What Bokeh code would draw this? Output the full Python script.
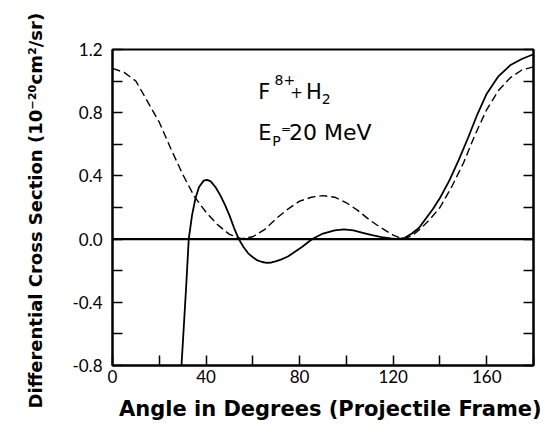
from bokeh.plotting import figure
from bokeh.models import LinearAxis, FixedTicker, Span, Label, Range1d
from bokeh.embed import file_html
from bokeh.resources import INLINE

# ---- data ----
dashed_angle = [0, 5, 10, 15, 20, 25, 30, 35, 40, 45, 50, 55, 60, 65, 70, 75, 80, 85, 90,
                95, 100, 105, 110, 115, 120, 124, 128, 132, 136, 140, 145, 150, 155, 160,
                165, 170, 175, 180]
dashed_xs = [1.08, 1.055, 1.0, 0.87, 0.74, 0.57, 0.41, 0.27, 0.17, 0.09, 0.03, 0.003, 0.015,
             0.06, 0.13, 0.19, 0.24, 0.265, 0.275, 0.265, 0.23, 0.18, 0.12, 0.07, 0.025, 0.0,
             0.02, 0.07, 0.13, 0.2, 0.33, 0.48, 0.66, 0.82, 0.94, 1.02, 1.07, 1.09]

solid_angle = [29.5, 30.5, 31.5, 32.6, 34, 35.5, 37, 39, 40.5, 42, 44, 46, 48, 50, 52, 54, 56,
               58, 60, 62, 64, 66, 68, 70, 72, 75, 78, 81, 84, 86, 90, 95, 99, 103, 107, 111,
               115, 119, 122, 125, 128, 131, 134, 137, 140, 144, 148, 152, 156, 160, 165, 170,
               175, 180]
solid_xs = [-0.8, -0.55, -0.3, 0.0, 0.15, 0.26, 0.33, 0.37, 0.375, 0.365, 0.33, 0.28, 0.22,
            0.15, 0.07, 0.0, -0.05, -0.09, -0.115, -0.135, -0.145, -0.15, -0.148, -0.14,
            -0.13, -0.11, -0.08, -0.05, -0.015, 0.005, 0.035, 0.055, 0.062, 0.055, 0.04,
            0.025, 0.012, 0.004, 0.0, 0.008, 0.035, 0.07, 0.13, 0.19, 0.26, 0.37, 0.5, 0.64,
            0.79, 0.92, 1.03, 1.1, 1.14, 1.17]

x_major = [0, 40, 80, 120, 160]
x_minor = [20, 60, 100, 140, 180]
y_major = [-0.8, -0.4, 0.0, 0.4, 0.8, 1.2]
y_minor = [-0.6, -0.2, 0.2, 0.6, 1.0]
y_labels = {-0.8: "-0.8", -0.4: "-0.4", 0.0: "0.0", 0.4: "0.4", 0.8: "0.8", 1.2: "1.2"}

TICK_FONT = "Lato"
TEXT_FONT = "DejaVu Sans"
LABEL_FONT = "DejaVu Sans"
NB = "\u00a0"

p = figure(width=544, height=430,
           x_range=Range1d(0, 180), y_range=Range1d(-0.8, 1.2),
           output_backend="svg", toolbar_location=None,
           min_border_left=112, min_border_right=11, min_border_top=49, min_border_bottom=65)
p.grid.visible = False
p.outline_line_color = "black"
p.outline_line_width = 2

xa = p.xaxis[0]
xa.ticker = FixedTicker(ticks=x_major, minor_ticks=x_minor)
ya = p.yaxis[0]
ya.ticker = FixedTicker(ticks=y_major, minor_ticks=y_minor)
ya.major_label_overrides = y_labels

for ax in (xa, ya):
    ax.axis_line_width = 2
    ax.axis_line_color = "black"
    ax.major_tick_in = 10
    ax.major_tick_out = 0
    ax.minor_tick_in = 10
    ax.minor_tick_out = 0
    ax.major_tick_line_width = 1.5
    ax.minor_tick_line_width = 1.5
    ax.major_tick_line_color = "black"
    ax.minor_tick_line_color = "black"
    ax.major_label_text_font = TICK_FONT
    ax.major_label_text_font_size = "17px"
    ax.major_label_text_color = "black"
    ax.axis_label_text_font = LABEL_FONT
    ax.axis_label_text_font_style = "bold"
    ax.axis_label_text_color = "black"
xa.major_label_standoff = 4
ya.major_label_standoff = 10
xa.axis_label = NB * 2 + "Angle in Degrees (Projectile Frame)"
xa.axis_label_text_font_size = "21px"
xa.axis_label_standoff = 11
ya.axis_label = "Differential Cross Section (10\u207b\u00b2\u2070cm\u00b2/sr)" + NB
ya.axis_label_text_font_size = "18px"
ya.axis_label_standoff = 23

ra = LinearAxis(ticker=FixedTicker(ticks=y_major, minor_ticks=y_minor),
                major_label_overrides={t: "" for t in y_major},
                major_label_text_font_size="1px", major_label_standoff=0,
                axis_line_width=2, major_tick_in=10, major_tick_out=0,
                minor_tick_in=10, minor_tick_out=0,
                major_tick_line_width=1.5, minor_tick_line_width=1.5)
p.add_layout(ra, "right")

p.add_layout(Span(location=0, dimension="width", line_color="black", line_width=2.2))

p.line(dashed_angle, dashed_xs, line_color="black", line_width=1.4, line_dash="8 4")
p.line(solid_angle, solid_xs, line_color="black", line_width=1.8)

def lab(x, y, text, size):
    p.add_layout(Label(x=x, y=y, text=text, text_font=TEXT_FONT, text_font_size=size,
                       text_color="black", text_baseline="alphabetic", text_align="left"))

lab(62.3, 0.928, "F", "21px")
lab(69.3, 1.004, "8+", "14px")
lab(76.0, 0.928, "+", "15px")
lab(82.7, 0.928, "H", "21px")
lab(89.5, 0.889, "2", "14px")
lab(62.3, 0.674, "E", "21px")
lab(68.3, 0.623, "P", "14px")
lab(72.0, 0.699, "=", "12px")
lab(75.5, 0.674, "20 MeV", "22px")

open("out.html", "w").write(file_html(p, INLINE))
